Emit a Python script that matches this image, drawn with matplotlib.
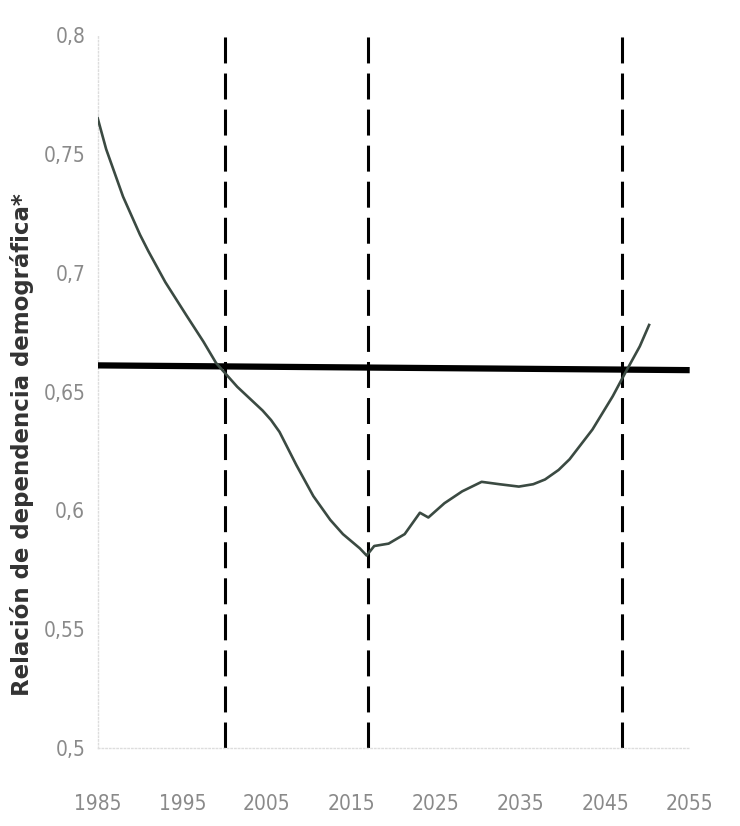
import matplotlib
matplotlib.use("Agg")
import matplotlib.pyplot as plt

# relación de dependencia demográfica
years = [1985.0, 1986.0, 1987.0, 1988.0, 1989.0, 1990.0, 1991.0, 1993.0, 1995.5,
         1997.5, 1999.0, 2000.0, 2001.5, 2003.0, 2004.5, 2005.5, 2006.5, 2007.5,
         2008.5, 2010.5, 2012.5, 2014.0, 2015.0, 2016.0, 2016.8, 2017.7, 2019.4,
         2021.3, 2023.1, 2024.1, 2026.0, 2028.1, 2030.4, 2032.5, 2034.8, 2036.5,
         2037.9, 2039.5, 2040.8, 2043.5, 2045.9, 2047.4, 2049.1, 2050.2]
ratio = [0.765, 0.752, 0.742, 0.732, 0.724, 0.716, 0.709, 0.696, 0.682,
         0.671, 0.662, 0.658, 0.652, 0.647, 0.642, 0.638, 0.633, 0.626,
         0.619, 0.606, 0.596, 0.590, 0.587, 0.584, 0.581, 0.585, 0.586,
         0.590, 0.599, 0.597, 0.603, 0.608, 0.612, 0.611, 0.610, 0.611,
         0.613, 0.617, 0.6215, 0.634, 0.648, 0.658, 0.669, 0.678]

threshold_x = [1985, 2055]
threshold_y = [0.661, 0.659]
cut_years = [2000, 2017, 2047]

xticks = [1985, 1995, 2005, 2015, 2025, 2035, 2045, 2055]
yticks = [0.5, 0.55, 0.6, 0.65, 0.7, 0.75, 0.8]
ytick_labels = ["0,5", "0,55", "0,6", "0,65", "0,7", "0,75", "0,8"]

fig = plt.figure(figsize=(7.4, 8.26), dpi=100)
ax = fig.add_axes([0.132, 0.0944, 0.8, 0.8632])

for yr in cut_years:
    ax.axvline(yr, color="black", lw=2.2, dashes=(8.5, 3.3), zorder=2)

ax.plot(threshold_x, threshold_y, color="black", lw=4.5, solid_capstyle="butt", zorder=3)
ax.plot(years, ratio, color="#3b4a42", lw=1.9, zorder=4)

ax.set_xlim(1985, 2055)
ax.set_ylim(0.5, 0.8)
ax.set_xticks(xticks)
ax.set_yticks(yticks)
ax.set_yticklabels(ytick_labels)

for lab in ax.get_xticklabels() + ax.get_yticklabels():
    lab.set_fontfamily("DejaVu Sans")
    lab.set_fontstretch("condensed")
    lab.set_fontsize(15)
    lab.set_color("#8a8a8a")

ax.tick_params(axis="x", length=0, pad=33)
ax.tick_params(axis="y", length=0, pad=9)

for side in ["top", "right"]:
    ax.spines[side].set_visible(False)
for side in ["left", "bottom"]:
    ax.spines[side].set_color("#dddddd")
    ax.spines[side].set_linewidth(1)
    ax.spines[side].set_linestyle(":")

ax.set_ylabel("Relación de dependencia demográfica*", fontsize=16.5,
              fontweight="bold", color="#333333")
ax.yaxis.set_label_coords(-0.108, 0.425)

fig.savefig("out.png", dpi=100)
